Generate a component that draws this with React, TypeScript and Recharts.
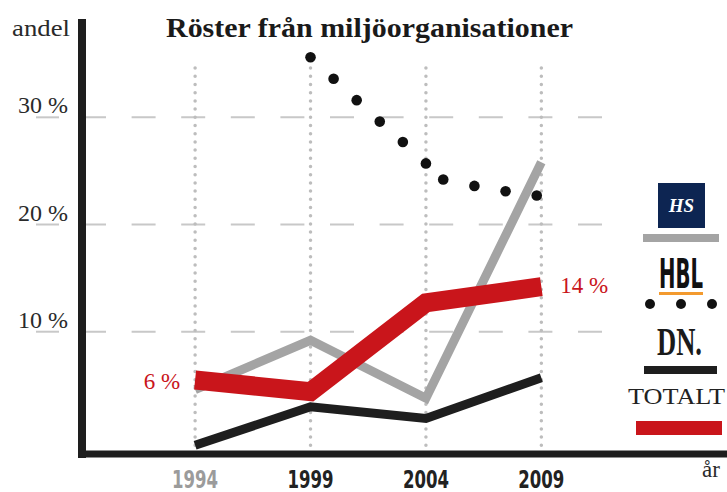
import React from 'react';
import { LineChart, Line, XAxis, YAxis, ReferenceLine } from 'recharts';

// survey years and the four series (share in %)
const years = [1994, 1999, 2004, 2009];
const hsValues = [4.6, 9.2, 3.8, 25.8];
const dnValues = [-0.6, 3.0, 1.9, 5.7];
const totalValues = [5.5, 4.4, 12.7, 14.2];
const totalLabels = ['6 %', '', '', '14 %'];

// HBL is drawn as separate dots
const hblYears = [1999, 2000, 2001, 2002, 2003, 2004, 2004.75, 2006.1, 2007.45, 2008.8];
const hblValues = [35.6, 33.6, 31.6, 29.6, 27.7, 25.7, 24.2, 23.6, 23.1, 22.7];

const yTicks = [10, 20, 30];
const yTickLabels = ['10 %', '20 %', '30 %'];
const yearLabelColors = ['#9b9b9b', '#222', '#222', '#222'];

const data = years.map((year, i) => ({
  year,
  hs: hsValues[i],
  dn: dnValues[i],
  total: totalValues[i],
  label: totalLabels[i],
}));
const hblData = hblYears.map((year, i) => ({ year, hbl: hblValues[i] }));

const serif = '"Liberation Serif", "Times New Roman", serif';
const narrow = '"Liberation Sans Narrow", "DejaVu Sans Condensed", "Liberation Sans", sans-serif';

const RED = '#c9151b';
const GREY = '#a4a4a4';
const BLACK = '#1e1e1e';

const YTick = (props: any) => {
  const { x, y, index } = props;
  return (
    <g>
      <line x1={x - 38} x2={x - 15} y1={y} y2={y} stroke="#c8c8c8" strokeWidth={2} />
      <text x={x - 6} y={y - 4} textAnchor="end" fontFamily={serif} fontSize={24} fill="#2a2a2a">
        {yTickLabels[index]}
      </text>
    </g>
  );
};

const XTick = (props: any) => {
  const { x, y, index } = props;
  return (
    <text
      x={x}
      y={y + 26}
      textAnchor="middle"
      fontFamily={narrow}
      fontWeight="bold"
      fontSize={24}
      textLength={46}
      lengthAdjust="spacingAndGlyphs"
      fill={yearLabelColors[index]}
    >
      {years[index]}
    </text>
  );
};

const TotalLabel = (props: any) => {
  const { x, y, index } = props;
  const text = totalLabels[index];
  if (!text) return null;
  const first = index === 0;
  return (
    <text
      x={first ? x - 15 : x + 19}
      y={first ? y + 9 : y + 6}
      textAnchor={first ? 'end' : 'start'}
      fontFamily={serif}
      fontSize={23}
      fill={RED}
    >
      {text}
    </text>
  );
};

export default function App() {
  return (
    <div style={{ position: 'absolute', left: 0, top: 0, width: 727, height: 492, background: '#fff' }}>
      <LineChart width={727} height={492} data={data} margin={{ top: 23, right: 1, left: 0, bottom: 0 }}>
        <XAxis
          dataKey="year"
          type="number"
          domain={[1989.1, 2017]}
          ticks={years}
          allowDataOverflow
          height={38}
          tickLine={false}
          axisLine={{ stroke: BLACK, strokeWidth: 7, strokeLinecap: 'square' }}
          tick={<XTick />}
        />
        <YAxis
          type="number"
          domain={[-1.41, 38.8]}
          ticks={yTicks}
          allowDataOverflow
          width={82}
          tickLine={false}
          axisLine={{ stroke: BLACK, strokeWidth: 8, strokeLinecap: 'square' }}
          tick={<YTick />}
        />
        {yTicks.map((v) => (
          <ReferenceLine
            key={'h' + v}
            segment={[{ x: 1989.1, y: v }, { x: 2011.64, y: v }]}
            stroke="#c8c8c8"
            strokeWidth={2}
            strokeDasharray="24 25.6"
          />
        ))}
        {years.map((yr) => (
          <ReferenceLine
            key={'v' + yr}
            segment={[{ x: yr, y: -0.6 }, { x: yr, y: 35.2 }]}
            stroke="#bdbdbd"
            strokeWidth={3.5}
            strokeLinecap="round"
            strokeDasharray="0 8.2"
          />
        ))}
        <Line dataKey="hs" stroke={GREY} strokeWidth={9} dot={false} activeDot={false} isAnimationActive={false} />
        <Line
          dataKey="total"
          stroke={RED}
          strokeWidth={19}
          dot={false}
          activeDot={false}
          isAnimationActive={false}
          label={<TotalLabel />}
        />
        <Line dataKey="dn" stroke={BLACK} strokeWidth={9} dot={false} activeDot={false} isAnimationActive={false} />
        <Line
          data={hblData}
          dataKey="hbl"
          stroke="none"
          dot={{ r: 5.3, fill: '#111', stroke: 'none' }}
          activeDot={false}
          isAnimationActive={false}
        />
      </LineChart>
      <svg width={727} height={492} style={{ position: 'absolute', left: 0, top: 0, pointerEvents: 'none' }}>
        <text x={166} y={37} fontFamily={serif} fontWeight="bold" fontSize={28} textLength={407} lengthAdjust="spacingAndGlyphs" fill="#1a1a1a">
          Röster från miljöorganisationer
        </text>
        <text x={12} y={36} fontFamily={serif} fontSize={24} textLength={58} lengthAdjust="spacingAndGlyphs" fill="#2a2a2a">
          andel
        </text>
        <text x={702} y={477} fontFamily={serif} fontSize={23} fill="#2a2a2a">
          år
        </text>
        {/* legend */}
        <rect x={658} y={183} width={47} height={45} fill="#0d2552" />
        <text x={681.5} y={212} textAnchor="middle" fontFamily={serif} fontStyle="italic" fontWeight="bold" fontSize={19} fill="#fff">
          HS
        </text>
        <rect x={643} y={234} width={76} height={8} fill={GREY} />
        <text x={659} y={288} fontFamily={narrow} fontWeight="bold" fontSize={40} textLength={44} lengthAdjust="spacingAndGlyphs" fill="#111">
          HBL
        </text>
        <rect x={659} y={292} width={44} height={3} fill="#f39a2e" />
        <circle cx={650} cy={304} r={5} fill="#111" />
        <circle cx={681} cy={304} r={5} fill="#111" />
        <circle cx={712} cy={304} r={5} fill="#111" />
        <text x={657} y={355} fontFamily={serif} fontWeight="bold" fontSize={39} textLength={45} lengthAdjust="spacingAndGlyphs" fill="#1a1a1a">
          DN.
        </text>
        <rect x={644} y={366} width={73} height={8} fill={BLACK} />
        <text x={628} y={404} fontFamily={serif} fontSize={23} textLength={97} lengthAdjust="spacingAndGlyphs" fill="#222">
          TOTALT
        </text>
        <rect x={636} y={421} width={86} height={14} fill={RED} />
      </svg>
    </div>
  );
}
